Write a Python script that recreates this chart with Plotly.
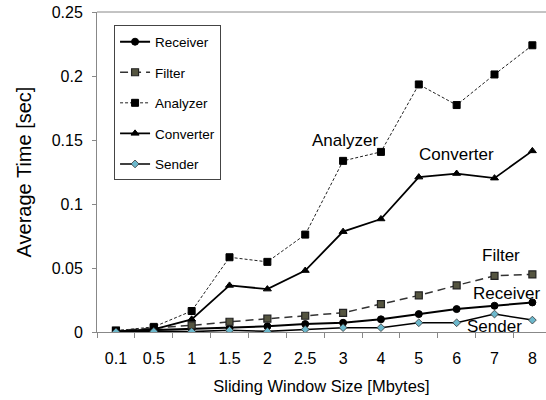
import plotly.graph_objects as go

categories = ["0.1", "0.5", "1", "1.5", "2", "2.5", "3", "4", "5", "6", "7", "8"]
receiver = [0.0005, 0.0015, 0.0025, 0.003, 0.0044, 0.0062, 0.0072, 0.0099, 0.014, 0.0179, 0.0205, 0.0231]
filter_ = [0.001, 0.003, 0.0052, 0.008, 0.0104, 0.0127, 0.015, 0.0218, 0.0286, 0.0364, 0.0439, 0.045]
analyzer = [0.001, 0.004, 0.0164, 0.0584, 0.0548, 0.0761, 0.1337, 0.1407, 0.1934, 0.1773, 0.2012, 0.224]
converter = [0.0005, 0.002, 0.0099, 0.0364, 0.0335, 0.048, 0.0784, 0.0883, 0.121, 0.1238, 0.1202, 0.1415]
sender = [0.0, 0.0005, 0.0003, 0.0013, 0.0005, 0.002, 0.0034, 0.0034, 0.0072, 0.0072, 0.014, 0.0093]
yticks = [0, 0.05, 0.1, 0.15, 0.2, 0.25]
ytick_text = ["0", "0.05", "0.1", "0.15", "0.2", "0.25"]

FONT = "Liberation Sans, Arial, Helvetica, sans-serif"

fig = go.Figure()
series = [
    ("Receiver", receiver, dict(color="black", width=2, dash="solid"),
     dict(symbol="circle", size=7, color="black", line=dict(color="black", width=1))),
    ("Filter", filter_, dict(color="#333333", width=1.5, dash="8px,5px"),
     dict(symbol="square", size=7, color="#555540", line=dict(color="#222222", width=1.2))),
    ("Analyzer", analyzer, dict(color="#222222", width=1, dash="3px,2px"),
     dict(symbol="square", size=7, color="black", line=dict(color="black", width=1))),
    ("Converter", converter, dict(color="black", width=1.8, dash="solid"),
     dict(symbol="triangle-up", size=7, color="black", line=dict(color="black", width=1))),
    ("Sender", sender, dict(color="black", width=1.5, dash="solid"),
     dict(symbol="diamond", size=6, color="#6cb8cc", line=dict(color="#333333", width=0.8))),
]
for i, (name, vals, line, marker) in enumerate(series):
    fig.add_trace(go.Scatter(
        x=categories, y=vals, name=name, mode="lines+markers",
        line=line, marker=marker, legendgroup=name,
    ))

annots = [
    ("Analyzer", 6.05, 0.150),
    ("Converter", 8.99, 0.1386),
    ("Filter", 10.16, 0.060),
    ("Receiver", 10.31, 0.0304),
    ("Sender", 10.0, 0.0041),
]
for text, xi, yv in annots:
    fig.add_annotation(x=xi, y=yv, text=text, showarrow=False,
                       font=dict(family=FONT, size=17, color="black"),
                       xanchor="center", yanchor="middle")

fig.add_shape(type="line", xref="paper", yref="paper", x0=0, x1=1, y0=1, y1=1,
              line=dict(color="#888888", width=1))

fig.update_layout(
    width=546, height=400,
    margin=dict(l=97, r=0, t=12, b=68, autoexpand=False),
    paper_bgcolor="white", plot_bgcolor="white",
    font=dict(family=FONT, size=14, color="black"),
    showlegend=True,
    legend=dict(
        x=0.038, y=0.958, xanchor="left", yanchor="top",
        bordercolor="#444444", borderwidth=1, bgcolor="white",
        font=dict(family=FONT, size=13.5, color="black"),
        traceorder="grouped", tracegroupgap=10,
        itemwidth=30,
    ),
    xaxis=dict(
        type="category", range=[-0.5, 11.36], automargin=False,
        showgrid=False, showline=True, linecolor="#888888", linewidth=1,
        ticks="outside", ticklen=5, tickcolor="#888888", tickson="boundaries",
        tickfont=dict(family=FONT, size=16), ticklabelstandoff=12,
        title=dict(text="Sliding Window Size [Mbytes]", font=dict(family=FONT, size=16.5), standoff=14),
        zeroline=False,
    ),
    yaxis=dict(
        range=[0, 0.25], tickvals=yticks, ticktext=ytick_text, automargin=False,
        showgrid=False, showline=True, linecolor="#888888", linewidth=1,
        ticks="outside", ticklen=4, tickcolor="#888888",
        tickfont=dict(family=FONT, size=16), ticklabelstandoff=6,
        title=dict(text="Average Time [sec]", font=dict(family=FONT, size=20), standoff=14),
        zeroline=False,
    ),
)

fig.write_html("out.html", config={"displayModeBar": False},
               post_script="document.body.style.margin='0';document.body.style.overflow='hidden';")
